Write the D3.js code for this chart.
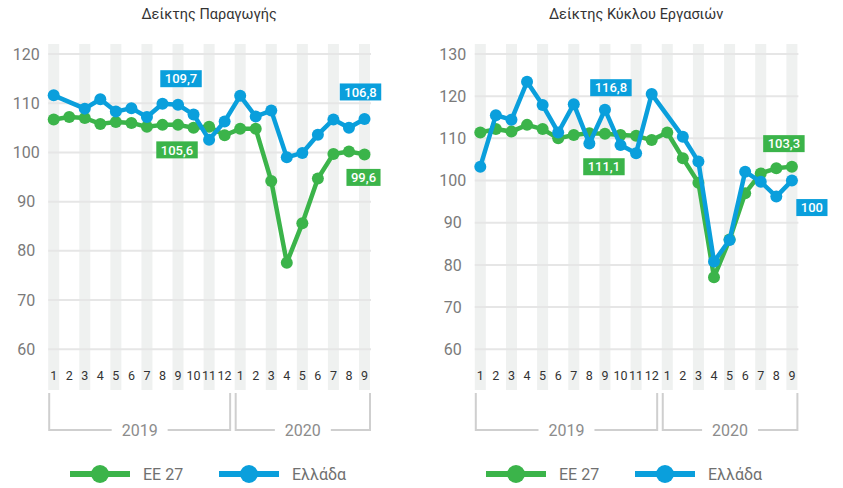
<!DOCTYPE html>
<html>
<head>
<meta charset="utf-8">
<script src="https://cdn.jsdelivr.net/npm/d3@7"></script>
<style>
  body { margin: 0; background: #fff; }
  svg { display: block; font-family: Roboto, "Noto Sans", sans-serif; }
</style>
</head>
<body>
<svg id="chart" width="843" height="488"></svg>
<script>
// months on the x axis, 2019-01 .. 2020-09
const monthLabels = ['1','2','3','4','5','6','7','8','9','10','11','12','1','2','3','4','5','6','7','8','9'];
const years = ['2019', '2020'];
const monthsPerYear = [12, 9];

const seriesNames = ['ΕΕ 27', 'Ελλάδα'];

// Δείκτης Παραγωγής
const prodEU = [106.7, 107.2, 107.0, 105.8, 106.2, 106.0, 105.2, 105.6, 105.6, 105.0, 105.2, 103.5,
                104.8, 104.8, 94.2, 77.6, 85.6, 94.7, 99.7, 100.2, 99.6];
const prodGR = [111.6, null, 108.9, 110.8, 108.3, 109.0, 107.2, 109.9, 109.7, 107.7, 102.6, 106.3,
                111.5, 107.3, 108.5, 99.0, 99.9, 103.6, 106.7, 105.0, 106.8];

// Δείκτης Κύκλου Εργασιών
const turnEU = [111.4, 112.2, 111.6, 113.2, 112.2, 110.0, 110.8, 111.2, 111.1, 110.8, 110.6, 109.6,
                111.4, 105.3, 99.5, 77.1, 86.0, 97.0, 101.7, 102.9, 103.3];
const turnGR = [103.3, 115.5, 114.4, 123.4, 117.9, 111.4, 118.1, 108.8, 116.8, 108.4, 106.5, 120.5,
                null, 110.4, 104.5, 80.8, 85.9, 102.1, 99.7, 96.2, 100.0];

const prodTicks = [60, 70, 80, 90, 100, 110, 120];
const turnTicks = [60, 70, 80, 90, 100, 110, 120, 130];

const green = '#3bb44a';
const blue = '#0a9fdc';

const svg = d3.select('#chart');

const panels = [
  {
    title: 'Δείκτης Παραγωγής', x0: 53.7, x1: 364.5, ticks: prodTicks,
    eu: prodEU, gr: prodGR, legendX: 70,
    callouts: [
      { s: 'gr', i: 8, dx: 3, dy: -26 },
      { s: 'eu', i: 8, dx: -1, dy: 25 },
      { s: 'gr', i: 20, dx: -4, dy: -27 },
      { s: 'eu', i: 20, dx: -1, dy: 23 }
    ]
  },
  {
    title: 'Δείκτης Κύκλου Εργασιών', x0: 480.3, x1: 791.9, ticks: turnTicks,
    eu: turnEU, gr: turnGR, legendX: 486,
    callouts: [
      { s: 'gr', i: 8, dx: 6, dy: -22 },
      { s: 'eu', i: 8, dx: -1, dy: 33 },
      { s: 'eu', i: 20, dx: -8, dy: -23 },
      { s: 'gr', i: 20, dx: 20, dy: 27 }
    ]
  }
];

panels.forEach(function (p) {
  let g = svg.append('g');
  let x = d3.scaleLinear().domain([0, monthLabels.length - 1]).range([p.x0, p.x1]);
  let y = d3.scaleLinear().domain([60, d3.max(p.ticks)]).range([349.3, 54]);
  let half = 5.5;

  // title
  g.append('text')
    .attr('x', (p.x0 + p.x1) / 2)
    .attr('y', 14)
    .attr('dy', '0.35em')
    .attr('text-anchor', 'middle')
    .style('font-size', '14.5px')
    .style('fill', '#333')
    .text(p.title);

  // vertical stripes on every other month
  g.selectAll('.stripe')
    .data(monthLabels.map(function (m, i) { return i; }).filter(function (i) { return i % 2 == 0; }))
    .enter().append('rect')
    .attr('x', function (i) { return x(i) - half; })
    .attr('y', 44)
    .attr('width', half * 2)
    .attr('height', 346)
    .style('fill', '#eff1f0');

  // horizontal grid
  g.selectAll('.grid')
    .data(p.ticks)
    .enter().append('line')
    .attr('x1', x(0) - half)
    .attr('x2', x(monthLabels.length - 1) + half + 1)
    .attr('y1', function (d) { return y(d); })
    .attr('y2', function (d) { return y(d); })
    .style('stroke', '#e6e6e6')
    .style('stroke-width', 2);

  // y labels
  g.selectAll('.ylab')
    .data(p.ticks)
    .enter().append('text')
    .attr('x', x(0) - half - 22)
    .attr('y', function (d) { return y(d); })
    .attr('dy', '0.35em')
    .attr('text-anchor', 'middle')
    .style('font-size', '16px')
    .style('fill', '#7a7a7a')
    .text(function (d) { return d; });

  // month labels
  g.selectAll('.mlab')
    .data(monthLabels)
    .enter().append('text')
    .attr('x', function (d, i) { return x(i); })
    .attr('y', 376)
    .attr('dy', '0.35em')
    .attr('text-anchor', 'middle')
    .style('font-size', '12.5px')
    .style('fill', '#333')
    .text(function (d) { return d; });

  // year brackets
  let start = 0;
  years.forEach(function (yr, k) {
    let a = x(start) - half + 1, b = x(start + monthsPerYear[k] - 1) + half;
    let mid = (a + b) / 2;
    start += monthsPerYear[k];
    let t = g.append('text')
      .attr('x', mid)
      .attr('y', 430)
      .attr('dy', '0.35em')
      .attr('text-anchor', 'middle')
      .style('font-size', '16px')
      .style('fill', '#8c8c8c')
      .text(yr);
    let gap = t.node().getComputedTextLength() / 2 + 10;
    let path = 'M' + a + ',393V430H' + (mid - gap) + 'M' + (mid + gap) + ',430H' + b + 'V393';
    g.append('path')
      .attr('d', path)
      .style('fill', 'none')
      .style('stroke', '#cfcfcf')
      .style('stroke-width', 2);
  });

  // series
  let line = d3.line()
    .x(function (d) { return x(d.i); })
    .y(function (d) { return y(d.v); });

  [{ vals: p.eu, color: green }, { vals: p.gr, color: blue }].forEach(function (s) {
    let pts = s.vals.map(function (v, i) { return { i: i, v: v }; })
      .filter(function (d) { return d.v != null; });
    g.append('path')
      .datum(pts)
      .attr('d', line)
      .style('fill', 'none')
      .style('stroke', s.color)
      .style('stroke-width', 4.5)
      .style('stroke-linejoin', 'round');
    g.selectAll(null)
      .data(pts)
      .enter().append('circle')
      .attr('cx', function (d) { return x(d.i); })
      .attr('cy', function (d) { return y(d.v); })
      .attr('r', 6)
      .style('fill', s.color);
  });

  // value call-outs
  p.callouts.forEach(function (c) {
    let vals = c.s == 'eu' ? p.eu : p.gr;
    let color = c.s == 'eu' ? green : blue;
    let cx = x(c.i) + c.dx, cy = y(vals[c.i]) + c.dy;
    let box = g.append('rect');
    let t = g.append('text')
      .attr('x', cx)
      .attr('y', cy)
      .attr('dy', '0.36em')
      .attr('text-anchor', 'middle')
      .style('font-size', '13px')
      .style('font-weight', 500)
      .style('fill', '#fff')
      .text(d3.format('~')(vals[c.i]).replace('.', ','));
    let w = t.node().getComputedTextLength() + 9;
    box.attr('x', cx - w / 2)
      .attr('y', cy - 8.5)
      .attr('width', w)
      .attr('height', 17)
      .style('fill', color);
  });

  // legend
  [green, blue].forEach(function (color, k) {
    let lx = p.legendX + k * 149;
    g.append('line')
      .attr('x1', lx).attr('x2', lx + 60)
      .attr('y1', 474).attr('y2', 474)
      .style('stroke', color)
      .style('stroke-width', 6);
    g.append('circle')
      .attr('cx', lx + 30).attr('cy', 474).attr('r', 9)
      .style('fill', color);
    g.append('text')
      .attr('x', lx + 73)
      .attr('y', 474)
      .attr('dy', '0.35em')
      .style('font-size', '16px')
      .style('fill', '#707070')
      .text(seriesNames[k]);
  });
});
</script>
</body>
</html>
